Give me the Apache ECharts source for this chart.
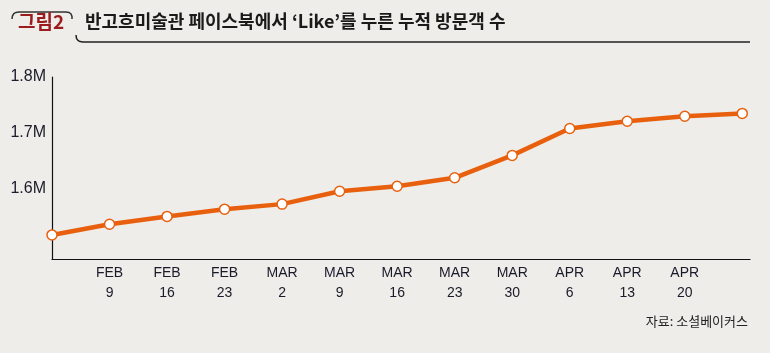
<!DOCTYPE html>
<html>
<head>
<meta charset="utf-8">
<script src="https://cdn.jsdelivr.net/npm/echarts@6/dist/echarts.min.js"></script>
<style>
html,body{margin:0;padding:0;background:#eeede9;}
#chart{width:770px;height:353px;}
</style>
</head>
<body>
<div id="chart"></div>
<script>
// Categories (weeks). First and last points have no printed label.
var categories = ['', 'FEB\n9', 'FEB\n16', 'FEB\n23', 'MAR\n2', 'MAR\n9', 'MAR\n16', 'MAR\n23', 'MAR\n30', 'APR\n6', 'APR\n13', 'APR\n20', ''];
// Cumulative 'Like' count, millions
var likes = [1.518, 1.537, 1.551, 1.564, 1.573, 1.596, 1.605, 1.620, 1.660, 1.708, 1.721, 1.730, 1.735];
// Y-axis tick labels
var yTicks = [1.6, 1.7, 1.8];

var seriesData = likes.map(function (v, i) { return [i, v]; });

var chart = echarts.init(document.getElementById('chart'), null, {renderer: 'canvas'});
var narrow = "'Liberation Sans Narrow', 'Liberation Sans', Arial, sans-serif";
var kr = "'Noto Sans CJK KR', 'Noto Sans', sans-serif";

chart.setOption({
  backgroundColor: '#eeede9',
  animation: false,
  grid: {left: 52, right: 20, top: 77, bottom: 94, containLabel: false},
  xAxis: {
    type: 'value',
    min: 0,
    max: 12.134,
    interval: 1,
    splitLine: {show: false},
    axisTick: {show: false},
    axisLine: {show: true, onZero: false, lineStyle: {color: '#111', width: 1.2}},
    axisLabel: {
      margin: 4,
      fontFamily: narrow,
      fontSize: 14,
      lineHeight: 20,
      color: '#1a1a2a',
      showMinLabel: true,
      showMaxLabel: false,
      formatter: function (v) {
        var i = Math.round(v);
        if (Math.abs(v - i) > 1e-6) return '';
        return categories[i] || '';
      }
    }
  },
  yAxis: {
    type: 'value',
    min: 1.475,
    max: 1.8,
    splitLine: {show: false},
    axisTick: {show: false},
    axisLine: {show: true, lineStyle: {color: '#111', width: 1.2}},
    axisLabel: {
      customValues: yTicks,
      margin: 6,
      fontFamily: narrow,
      fontSize: 16,
      color: '#1a1a2a',
      formatter: function (v) { return v.toFixed(1) + 'M'; }
    }
  },
  series: [{
    type: 'line',
    data: seriesData,
    symbol: 'circle',
    symbolSize: 10,
    clip: false,
    lineStyle: {color: '#e8600e', width: 4.5},
    itemStyle: {color: '#ffffff', borderColor: '#e8600e', borderWidth: 1.5},
    z: 3
  }],
  graphic: [
    {type: 'polyline', shape: {points: [[12,19],[12.4,16],[13.8,13.6],[16,12.4],[19,12],[66,12],[69,12.5],[71,14],[72,16.5],[72,19]]}, style: {stroke: '#333', lineWidth: 1.5, fill: null}},
    {type: 'text', left: 18, top: 12, style: {text: '그림2', fontFamily: kr, fontWeight: 'bold', fontSize: 19, fill: '#9b1b1e'}},
    {type: 'polyline', shape: {points: [[76,35],[76.5,38.5],[78,40.5],[80,41.6],[83,42],[750,42]]}, style: {stroke: '#222', lineWidth: 1.5, fill: null}},
    {type: 'text', left: 85, top: 12, style: {text: "반고흐미술관 페이스북에서 ‘Like’를 누른 누적 방문객 수", fontFamily: kr, fontWeight: 'bold', fontSize: 18, fill: '#1a1a1a'}},
    {type: 'text', right: 22, top: 315, style: {text: '자료: 소셜베이커스', fontFamily: kr, fontSize: 13, fill: '#222'}}
  ]
});
</script>
</body>
</html>
